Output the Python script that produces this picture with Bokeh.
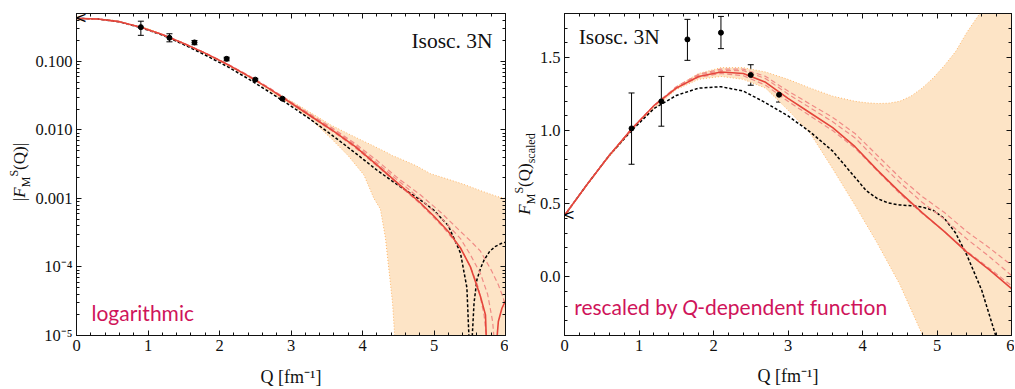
from bokeh.plotting import figure
from bokeh.models import (LinearAxis, LogAxis, Label, Whisker, TeeHead, ColumnDataSource, Div,
                          SingleIntervalTicker, LogTicker, CustomJSTickFormatter)
from bokeh.layouts import row
from bokeh.embed import file_html
from bokeh.resources import INLINE
from bokeh.core.properties import value

SERIF = "Liberation Serif"
SANS = "Lato"
RED = "#e5453b"
PINK = "#f08b86"
BAND = "#fde4c6"
BAND_EDGE = "#ffb566"
MAGENTA = "#cf145a"

# ---------------- data: left panel (|F_M^S(Q)|, log) ----------------
Q_data = [0.9, 1.3, 1.65, 2.1, 2.5, 2.88]
F_data = [0.316, 0.221, 0.189, 0.109, 0.0542, 0.0286]
F_lo = [0.24, 0.193, 0.175, 0.102, 0.052, 0.0278]
F_hi = [0.386, 0.253, 0.202, 0.115, 0.0565, 0.0294]

Q_L_solid_a = [0, 0.3, 0.6, 0.9, 1.2, 1.5, 1.8, 2.1, 2.4, 2.7, 3.0, 3.3, 3.6, 3.9, 4.2, 4.5, 4.8, 5.0, 5.2, 5.37, 5.51, 5.65, 5.72, 5.74]
F_solid_a = [0.425, 0.415, 0.38, 0.314, 0.246, 0.183, 0.132, 0.0914, 0.0615, 0.0398, 0.0247, 0.0153, 0.0095, 0.0057, 0.0031, 0.00165, 0.00088, 0.00055, 0.00033, 0.00019, 0.0001, 3.7e-5, 2e-5, 5e-6]
Q_L_solid_b = [5.86, 5.9, 5.95, 6.0]
F_solid_b = [5e-6, 1.6e-5, 2.5e-5, 3.2e-5]

Q_L_dash_a = [0, 0.3, 0.6, 0.9, 1.2, 1.5, 1.8, 2.1, 2.4, 2.7, 3.0, 3.3, 3.6, 3.9, 4.2, 4.5, 4.8, 5.0, 5.2, 5.37, 5.46, 5.5]
F_dash_a = [0.425, 0.415, 0.378, 0.311, 0.242, 0.176, 0.124, 0.085, 0.056, 0.0356, 0.0223, 0.0136, 0.0080, 0.0046, 0.0026, 0.00155, 0.00097, 0.00067, 0.00040, 0.00016, 5e-5, 5e-6]
Q_L_dash_b = [5.52, 5.56, 5.6, 5.65, 5.7, 5.78, 5.86, 5.94, 6.0]
F_dash_b = [5e-6, 3e-5, 6.5e-5, 9.5e-5, 0.000126, 0.00017, 0.0002, 0.00022, 0.00023]

Q_L_rd1 = [0, 0.3, 0.6, 0.9, 1.2, 1.5, 1.8, 2.1, 2.4, 2.7, 3.0, 3.3, 3.6, 3.9, 4.2, 4.5, 4.8, 5.1, 5.37, 5.51, 5.65, 5.8, 5.9, 5.97, 6.0]
F_rd1 = [0.425, 0.415, 0.38, 0.314, 0.246, 0.184, 0.133, 0.093, 0.063, 0.041, 0.0256, 0.0162, 0.0103, 0.0063, 0.0036, 0.00196, 0.00115, 0.00062, 0.00033, 0.00024, 0.00017, 9e-5, 5.5e-5, 3.5e-5, 2.5e-5]
Q_L_rd2 = [0, 0.3, 0.6, 0.9, 1.2, 1.5, 1.8, 2.1, 2.4, 2.7, 3.0, 3.3, 3.6, 3.9, 4.2, 4.5, 4.8, 5.1, 5.37, 5.51, 5.65, 5.75, 5.82, 5.86]
F_rd2 = [0.425, 0.415, 0.38, 0.314, 0.246, 0.1835, 0.1325, 0.092, 0.062, 0.0403, 0.0251, 0.0157, 0.0099, 0.006, 0.0033, 0.00182, 0.001, 0.00052, 0.00026, 0.00015, 8e-5, 4e-5, 1.6e-5, 5e-6]
Q_L_rd3 = [0, 0.3, 0.6, 0.9, 1.2, 1.5, 1.8, 2.1, 2.4, 2.7, 3.0, 3.3, 3.6, 3.9, 4.2, 4.5, 4.8, 5.1, 5.37, 5.51, 5.62, 5.7, 5.76]
F_rd3 = [0.425, 0.415, 0.38, 0.314, 0.246, 0.183, 0.132, 0.091, 0.0612, 0.0394, 0.0244, 0.0151, 0.0093, 0.0055, 0.003, 0.0016, 0.00085, 0.00041, 0.00019, 0.0001, 5e-5, 2e-5, 5e-6]

Q_L_band = [0, 0.5, 1.0, 1.5, 2.0, 2.5, 2.8, 3.0, 3.3, 3.556, 3.8, 4.02, 4.16, 4.25, 4.32, 4.37, 4.42, 4.45, 4.5, 4.75, 4.95, 5.2, 5.42, 5.65, 5.88, 6.0]
F_band_up = [0.425, 0.40, 0.30, 0.185, 0.104, 0.054, 0.034, 0.0265, 0.0172, 0.0118, 0.0088, 0.0068, 0.0058, 0.0052, 0.0048, 0.0045, 0.0042, 0.0041, 0.0039, 0.0030, 0.0023, 0.0019, 0.0016, 0.0013, 0.00107, 0.001]
F_band_lo = [0.425, 0.40, 0.30, 0.182, 0.101, 0.052, 0.031, 0.0235, 0.0135, 0.0076, 0.0042, 0.0022, 0.001, 0.0007, 0.00027, 9e-5, 3e-5, 1e-5, 1e-7, 1e-7, 1e-7, 1e-7, 1e-7, 1e-7, 1e-7, 1e-7]

# ---------------- data: right panel (rescaled, linear) ----------------
S_data = [1.015, 1.20, 1.623, 1.669, 1.38, 1.245]
S_lo = [0.77, 1.03, 1.48, 1.56, 1.31, 1.195]
S_hi = [1.257, 1.37, 1.76, 1.78, 1.45, 1.29]

Q_R = [0, 0.3, 0.6, 0.9, 1.2, 1.5, 1.8, 2.1, 2.4, 2.7, 3.0, 3.3, 3.6, 3.9, 4.2, 4.5, 4.8, 5.1, 5.4, 5.7, 6.0]
S_solid = [0.42, 0.63, 0.83, 1.01, 1.17, 1.29, 1.37, 1.40, 1.39, 1.33, 1.22, 1.12, 1.02, 0.89, 0.73, 0.58, 0.44, 0.31, 0.17, 0.05, -0.08]
S_rd1 = [0.42, 0.63, 0.83, 1.01, 1.17, 1.30, 1.385, 1.42, 1.42, 1.37, 1.27, 1.18, 1.09, 0.98, 0.83, 0.68, 0.55, 0.44, 0.31, 0.20, 0.08]
S_rd2 = [0.42, 0.63, 0.83, 1.01, 1.17, 1.295, 1.38, 1.41, 1.41, 1.355, 1.25, 1.155, 1.06, 0.95, 0.795, 0.645, 0.51, 0.395, 0.26, 0.14, 0.01]
S_rd3 = [0.42, 0.63, 0.83, 1.01, 1.17, 1.29, 1.365, 1.39, 1.375, 1.31, 1.20, 1.10, 1.00, 0.88, 0.725, 0.57, 0.435, 0.31, 0.175, 0.06, -0.06]

Q_R_dash = [0, 0.3, 0.6, 0.9, 1.2, 1.5, 1.8, 2.1, 2.4, 2.7, 3.0, 3.3, 3.6, 3.9, 4.05, 4.2, 4.35, 4.5, 4.65, 4.8, 4.95, 5.1, 5.25, 5.4, 5.6, 5.8]
S_dash = [0.42, 0.63, 0.83, 1.0, 1.15, 1.24, 1.29, 1.30, 1.27, 1.19, 1.10, 0.99, 0.86, 0.68, 0.59, 0.535, 0.505, 0.492, 0.487, 0.478, 0.455, 0.40, 0.30, 0.15, -0.09, -0.42]

Q_R_band = [0, 0.5, 1.0, 1.5, 1.8, 2.1, 2.4, 2.7, 3.0, 3.3, 3.6, 3.9, 4.05, 4.2, 4.35, 4.5, 4.65, 4.8, 4.95, 5.1, 5.25, 5.4, 5.6, 5.8, 6.0]
S_band_up = [0.42, 0.76, 1.06, 1.30, 1.39, 1.43, 1.43, 1.40, 1.35, 1.29, 1.235, 1.20, 1.19, 1.185, 1.187, 1.20, 1.235, 1.29, 1.36, 1.445, 1.54, 1.67, 1.82, 2.0, 2.2]
S_band_lo = [0.42, 0.76, 1.06, 1.28, 1.35, 1.37, 1.35, 1.29, 1.14, 0.98, 0.74, 0.49, 0.36, 0.23, 0.09, -0.05, -0.22, -0.39, -0.57, -0.75, -0.9, -1.0, -1.0, -1.0, -1.0]

x_label = "Q [fm⁻¹]"
panel_title = "Isosc. 3N"
note_left = "logarithmic"
note_right = ["rescaled by ", "Q", "-dependent function"]

EMPTY = CustomJSTickFormatter(code="return ''")


def style_axis(ax, label=True):
    ax.axis_line_color = "#111111"
    ax.major_tick_line_color = "#111111"
    ax.minor_tick_line_color = "#111111"
    ax.major_tick_in = 5
    ax.major_tick_out = 0
    ax.minor_tick_in = 3
    ax.minor_tick_out = 0
    ax.major_label_text_font = SERIF
    ax.major_label_text_font_size = "16.5px"
    ax.major_label_text_color = "#111111"
    ax.axis_label_text_font = SERIF
    ax.axis_label_text_font_size = "18px"
    ax.axis_label_text_font_style = "normal"
    ax.axis_label_text_color = "#111111"
    ax.major_label_standoff = 4 if label else 0


def ylabel_div(html, w, cx, cy):
    inner = ('<div style="position:relative;width:%dpx;height:389px;">'
             '<div style="position:absolute;left:%dpx;top:%dpx;transform:translate(-50%%,-50%%) rotate(-90deg);'
             'white-space:nowrap;font-family:\'Liberation Serif\';font-size:17px;color:#111111;line-height:1;">'
             '%s</div></div>') % (w, cx, cy, html)
    return Div(text=inner, width=w, height=389, margin=(0, 0, 0, 0))


# ======================= LEFT =======================
p1 = figure(width=476, height=389, y_axis_type="log", x_range=(0, 6), y_range=(1e-5, 0.5),
            output_backend="svg", toolbar_location=None,
            min_border_left=43, min_border_right=3, min_border_top=13, min_border_bottom=53)
p1.outline_line_color = None
p1.grid.visible = False
p1.xaxis.ticker = SingleIntervalTicker(interval=1, num_minor_ticks=5)
p1.yaxis.ticker = LogTicker(num_minor_ticks=10)
p1.yaxis.formatter = CustomJSTickFormatter(code="""
if (tick > 0.0005) { return tick.toFixed(3); }
const e = Math.round(Math.log10(tick));
const sup = {'-':'\u207b','0':'\u2070','1':'\u00b9','2':'\u00b2','3':'\u00b3','4':'\u2074','5':'\u2075','6':'\u2076','7':'\u2077','8':'\u2078','9':'\u2079'};
return '10' + String(e).split('').map(c => sup[c]).join('');
""")
p1.xaxis.axis_label = x_label
for ax in p1.xaxis + p1.yaxis:
    style_axis(ax)
p1.xaxis.axis_label_standoff = 13

top1 = LinearAxis(ticker=SingleIntervalTicker(interval=1, num_minor_ticks=5), formatter=EMPTY)
right1 = LogAxis(ticker=LogTicker(num_minor_ticks=10), formatter=EMPTY)
style_axis(top1, False)
style_axis(right1, False)
p1.add_layout(top1, "above")
p1.add_layout(right1, "right")

p1.varea(x=Q_L_band, y1=F_band_lo, y2=F_band_up, fill_color=BAND, fill_alpha=1.0)
p1.line(Q_L_band, F_band_up, line_color=BAND_EDGE, line_width=1, line_dash="1 2")
p1.line(Q_L_band, F_band_lo, line_color=BAND_EDGE, line_width=1, line_dash="1 2")
p1.line(Q_L_dash_a, F_dash_a, line_color="black", line_width=1.5, line_dash="3 2")
p1.line(Q_L_dash_b, F_dash_b, line_color="black", line_width=1.5, line_dash="3 2")
for qq, ff in [(Q_L_rd1, F_rd1), (Q_L_rd2, F_rd2), (Q_L_rd3, F_rd3)]:
    p1.line(qq, ff, line_color=PINK, line_width=1.2, line_dash="5 3")
p1.line(Q_L_solid_a, F_solid_a, line_color=RED, line_width=1.6)
p1.line(Q_L_solid_b, F_solid_b, line_color=RED, line_width=1.6)

src1 = ColumnDataSource(dict(x=Q_data, y=F_data, lo=F_lo, hi=F_hi))
p1.add_layout(Whisker(source=src1, base="x", lower="lo", upper="hi", line_color="black", line_width=1,
                      upper_head=TeeHead(size=6, line_color="black", line_width=1),
                      lower_head=TeeHead(size=6, line_color="black", line_width=1)))
p1.scatter("x", "y", source=src1, size=5, color="black")
p1.text(x=[Q_L_solid_a[0]], y=[F_solid_a[0]], text=["<"], text_align="left", text_baseline="middle",
        text_font=value("DejaVu Sans"), text_font_size="15px", x_offset=-2, text_color="black")

p1.add_layout(Label(x=5.82, y=0.30, text=panel_title, text_align="right", text_baseline="top",
                    text_font=SERIF, text_font_size="21.5px", text_color="#111111"))
p1.add_layout(Label(x=0.21, y=2.2e-5, text=note_left, text_align="left", text_baseline="alphabetic",
                    text_font=SANS, text_font_size="21px", text_color=MAGENTA))

# ======================= RIGHT =======================
p2 = figure(width=478, height=389, x_range=(0, 6), y_range=(-0.4, 1.8),
            output_backend="svg", toolbar_location=None,
            min_border_left=27, min_border_right=3, min_border_top=6, min_border_bottom=47)
p2.outline_line_color = None
p2.grid.visible = False
p2.xaxis.ticker = SingleIntervalTicker(interval=1, num_minor_ticks=5)
p2.yaxis.ticker = SingleIntervalTicker(interval=0.5, num_minor_ticks=5)
p2.yaxis.formatter = CustomJSTickFormatter(code="return tick.toFixed(1);")
p2.xaxis.axis_label = x_label
for ax in p2.xaxis + p2.yaxis:
    style_axis(ax)
p2.xaxis.axis_label_standoff = 12

top2 = LinearAxis(ticker=SingleIntervalTicker(interval=1, num_minor_ticks=5), formatter=EMPTY)
right2 = LinearAxis(ticker=SingleIntervalTicker(interval=0.5, num_minor_ticks=5), formatter=EMPTY)
style_axis(top2, False)
style_axis(right2, False)
p2.add_layout(top2, "above")
p2.add_layout(right2, "right")

p2.varea(x=Q_R_band, y1=S_band_lo, y2=S_band_up, fill_color=BAND, fill_alpha=1.0)
p2.line(Q_R_band, S_band_up, line_color=BAND_EDGE, line_width=1, line_dash="1 2")
p2.line(Q_R_band, S_band_lo, line_color=BAND_EDGE, line_width=1, line_dash="1 2")
p2.line(Q_R_dash, S_dash, line_color="black", line_width=1.5, line_dash="3 2")
for ss in [S_rd1, S_rd2, S_rd3]:
    p2.line(Q_R, ss, line_color=PINK, line_width=1.2, line_dash="5 3")
p2.line(Q_R, S_solid, line_color=RED, line_width=1.6)

src2 = ColumnDataSource(dict(x=Q_data, y=S_data, lo=S_lo, hi=S_hi))
p2.add_layout(Whisker(source=src2, base="x", lower="lo", upper="hi", line_color="black", line_width=1,
                      upper_head=TeeHead(size=6, line_color="black", line_width=1),
                      lower_head=TeeHead(size=6, line_color="black", line_width=1)))
p2.scatter("x", "y", source=src2, size=5, color="black")
p2.text(x=[Q_R[0]], y=[S_solid[0]], text=["<"], text_align="left", text_baseline="middle",
        text_font=value("DejaVu Sans"), text_font_size="15px", x_offset=-2, text_color="black")

p2.add_layout(Label(x=0.19, y=1.72, text=panel_title, text_align="left", text_baseline="top",
                    text_font=SERIF, text_font_size="21.5px", text_color="#111111"))
for t, dx, st in [(note_right[0], 0, "normal"), (note_right[1], 108, "italic"), (note_right[2], 123, "normal")]:
    p2.add_layout(Label(x=0.13, y=-0.204, text=t, x_offset=dx, text_align="left", text_baseline="alphabetic",
                        text_font=SANS, text_font_size="21px", text_font_style=st, text_color=MAGENTA))

# y-axis titles as HTML text (sub/superscripts)
div1 = ylabel_div('|<i>F</i><sub style="font-size:12px">M</sub><sup style="font-size:12px">S</sup>(Q)|', 32, 20, 172)
div2 = ylabel_div('<i>F</i><sub style="font-size:12px">M</sub><sup style="font-size:12px">S</sup>(Q)'
                  '<sub style="font-size:12px">scaled</sub>', 28, 17, 174)

layout = row(div1, p1, div2, p2)
open("out.html", "w").write(file_html(layout, INLINE))
